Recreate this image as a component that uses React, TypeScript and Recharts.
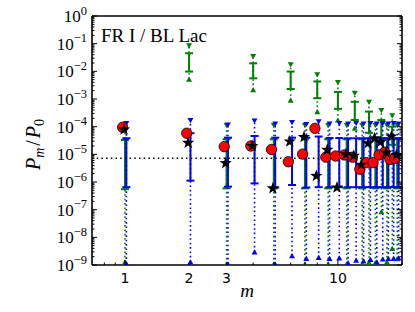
import { ComposedChart, ErrorBar, Label, ReferenceLine, Scatter, XAxis, YAxis } from "recharts"

const modes = [1, 2, 3, 4, 5, 6, 7, 8, 9, 10, 11, 12, 13, 14, 15, 16, 17, 18, 19]

// green: upper-limit arrow, bar top, bar bottom, lower-limit arrow
const greenArrowHi = [1.1e-4, 8.3e-2, 1.1e-4, 3.4e-2, 1.1e-4, 1.7e-2, 1.1e-4, 7.4e-3, 1.1e-4, 3.9e-3, 1.1e-4, 1.6e-3, 1.1e-4, 7.6e-4, 1.1e-4, 3.8e-4, 1.1e-4, 2.45e-4, 1.1e-4]
const greenHi = [3.3e-5, 4.5e-2, 3.5e-5, 1.95e-2, 3.5e-5, 9.8e-3, 3.5e-5, 4.3e-3, 3.5e-5, 1.8e-3, 3.5e-5, 7.9e-4, 3.5e-5, 3.5e-4, 3.5e-5, 1.74e-4, 3.5e-5, 1.0e-4, 3.5e-5]
const greenLo = [5.5e-7, 9.8e-3, 5.9e-7, 5.6e-3, 5.9e-7, 2.3e-3, 5.9e-7, 1.07e-3, 5.9e-7, 4.4e-4, 5.9e-7, 1.74e-4, 5.9e-7, 6.0e-5, 5.9e-7, 3.8e-5, 5.9e-7, 2.2e-5, 5.9e-7]
const greenArrowLo = [1.3e-9, 5.2e-3, 1.1e-9, 2.2e-3, 1.1e-9, 9.1e-4, 1.1e-9, 3.5e-4, 1.1e-9, 1.74e-4, 1.1e-9, 8.9e-5, 1.1e-9, 1.26e-9, 1.2e-9, 8.5e-8, 1.3e-9, 4.0e-9, 1.7e-9]

// blue
const blueArrowHi = [1.3e-4, 1.66e-4, 1.15e-4, 1.6e-4, 1.25e-4, 1.4e-4, 1.2e-4, 1.5e-4, 1.25e-4, 1.3e-4, 1.25e-4, 1.3e-4, 1.25e-4, 1.3e-4, 1.25e-4, 1.3e-4, 1.25e-4, 1.3e-4, 1.25e-4]
const blueHi = [3.8e-5, 5.8e-5, 4.0e-5, 4.6e-5, 4.0e-5, 4.0e-5, 4.0e-5, 4.4e-5, 3.9e-5, 3.9e-5, 3.8e-5, 3.8e-5, 3.8e-5, 3.8e-5, 3.8e-5, 3.8e-5, 3.8e-5, 3.8e-5, 3.8e-5]
const blueLo = [6.5e-7, 1.12e-6, 6.8e-7, 8.9e-7, 6.3e-7, 7.8e-7, 6.3e-7, 6.5e-7, 6.5e-7, 6.5e-7, 6.5e-7, 6.5e-7, 6.5e-7, 6.5e-7, 6.5e-7, 6.5e-7, 6.5e-7, 6.5e-7, 6.5e-7]
const blueArrowLo = [1.15e-9, 1.3e-9, 1.1e-9, 3.0e-9, 1.1e-9, 2.2e-9, 1.74e-9, 1.9e-9, 1.74e-9, 1.8e-9, 1.2e-9, 1.5e-9, 1.4e-9, 1.6e-9, 1.3e-9, 1.65e-9, 1.74e-9, 1.74e-9, 1.8e-9]

const redValues = [9.5e-5, 5.8e-5, 1.9e-5, 2.0e-5, 1.5e-5, 5.4e-6, 1.02e-5, 8.7e-5, 7.9e-6, 8.7e-6, 9.5e-6, 7.9e-6, 2.9e-6, 5.0e-6, 5.0e-6, 9.5e-6, 1.2e-5, 6.6e-6, 7.2e-6]
const starValues = [7.9e-5, 2.6e-5, 4.8e-6, 2.0e-5, 5.9e-7, 2.9e-5, 4.2e-5, 1.66e-6, 1.45e-5, 6.3e-7, 1.0e-5, 8.9e-6, 4.2e-6, 2.5e-5, 3.8e-5, 2.75e-5, 1.15e-5, 4.4e-5, 9.5e-6]

const noiseLevel = 7.2e-6

const yMajorTicks = [1, 1e-1, 1e-2, 1e-3, 1e-4, 1e-5, 1e-6, 1e-7, 1e-8, 1e-9]
const yTickExponents = ["0", "−1", "−2", "−3", "−4", "−5", "−6", "−7", "−8", "−9"]
const yMinorFactors = [2, 3, 4, 5, 6, 7, 8, 9]
const xMajorTicks = [1, 10]
const xMinorTicks = [0.8, 0.9, 2, 3, 4, 5, 6, 7, 8, 9, 20]
const xTickLabels = [1, 2, 3, 10]

// small horizontal offsets so overlapping markers stay visible
const shift = { red: 0.975, star: 0.99, green: 1.0, blue: 1.015 }

const GREEN = "#008000"
const BLUE = "#0000ff"

const yTicks = [
  ...yMajorTicks,
  ...yMajorTicks.slice(1).flatMap((d) => yMinorFactors.map((f) => d * f)),
]
const xTicks = [...xMajorTicks, ...xMinorTicks].sort((a, b) => a - b)

const bars = (hi, lo, k) => modes.map((m, i) => ({ x: m * k, y: hi[i], lo: lo[i] }))
const points = (vals, k) => modes.map((m, i) => ({ x: m * k, y: vals[i] }))

const greenSolid = bars(greenHi, greenLo, shift.green)
const greenDotted = bars(greenArrowHi, greenArrowLo, shift.green)
const greenLowArrows = points(greenArrowLo, shift.green)
const blueSolid = bars(blueHi, blueLo, shift.blue)
const blueDotted = bars(blueArrowHi, blueArrowLo, shift.blue)
const blueLowArrows = points(blueArrowLo, shift.blue)
const redPoints = points(redValues, shift.red)
const starPoints = points(starValues, shift.star)

// ErrorBar gets the scatter point; the original row sits in payload
const errRange = (d) => {
  const row = d.payload ?? d
  return [row.y - row.lo, 0]
}

const Nothing = () => <g />

const downTri = (color) => (p) => (
  <polygon points={`${p.cx - 3},${p.cy - 2.6} ${p.cx + 3},${p.cy - 2.6} ${p.cx},${p.cy + 2.6}`} fill={color} />
)
const upTri = (color) => (p) => (
  <polygon points={`${p.cx - 3},${p.cy + 2.6} ${p.cx + 3},${p.cy + 2.6} ${p.cx},${p.cy - 2.6}`} fill={color} />
)

const RedDot = (p) => <circle cx={p.cx} cy={p.cy} r={5.2} fill="#ff0000" stroke="#000" strokeWidth={0.8} />

const StarMark = (p) => {
  const pts = []
  for (let k = 0; k < 10; k++) {
    const r = k % 2 === 0 ? 6.5 : 2.6
    const a = -Math.PI / 2 + (k * Math.PI) / 5
    pts.push(`${p.cx + r * Math.cos(a)},${p.cy + r * Math.sin(a)}`)
  }
  return <polygon points={pts.join(" ")} fill="#000" />
}

const serif = "'Liberation Serif', 'DejaVu Serif', serif"
const sans = "'DejaVu Sans', sans-serif"

const isMajorY = (v) => yMajorTicks.some((t) => Math.abs(v / t - 1) < 1e-6)

const LeftTick = ({ x, y, payload }) => {
  const v = payload.value
  const idx = yMajorTicks.findIndex((t) => Math.abs(v / t - 1) < 1e-6)
  const len = idx >= 0 ? 5 : 2.5
  return (
    <g>
      <line x1={x} x2={x + len} y1={y} y2={y} stroke="#000" strokeWidth={1} />
      {idx >= 0 && (
        <text x={x - 5} y={y + 6} textAnchor="end" fontFamily={serif} fontSize={17} fill="#000">
          10
          <tspan dy={-7.5} fontSize={12.5}>{yTickExponents[idx]}</tspan>
        </text>
      )}
    </g>
  )
}

const RightTick = ({ x, y, payload }) => {
  const len = isMajorY(payload.value) ? 5 : 2.5
  return <line x1={x} x2={x - len} y1={y} y2={y} stroke="#000" strokeWidth={1} />
}

const BottomTick = ({ x, y, payload }) => {
  const v = payload.value
  const len = xMajorTicks.includes(v) ? 5 : 2.5
  return (
    <g>
      <line x1={x} x2={x} y1={y} y2={y - len} stroke="#000" strokeWidth={1} />
      {xTickLabels.includes(v) && (
        <text x={x} y={y + 18} textAnchor="middle" fontFamily={sans} fontSize={14} fill="#000">
          {v}
        </text>
      )}
    </g>
  )
}

const TopTick = ({ x, y, payload }) => {
  const len = xMajorTicks.includes(payload.value) ? 5 : 2.5
  return <line x1={x} x2={x} y1={y} y2={y + len} stroke="#000" strokeWidth={1} />
}

const frame = { stroke: "#000", strokeWidth: 1.6 }

export default function App() {
  return (
    <div style={{ position: "absolute", left: 0, top: 0, background: "#fff" }}>
      <ComposedChart width={415} height={312} margin={{ top: 15, right: 12, bottom: 0, left: 0 }}>
        <XAxis
          type="number"
          dataKey="x"
          scale="log"
          domain={[0.7, 20]}
          allowDataOverflow
          ticks={xTicks}
          interval={0}
          tickSize={0}
          tickMargin={0}
          tickLine={false}
          axisLine={frame}
          tick={BottomTick}
          height={47}
        >
          <Label
            content={({ viewBox }) => (
              <text x={viewBox.x + viewBox.width / 2} y={viewBox.y + 32} textAnchor="middle" fontFamily={serif} fontStyle="italic" fontSize={19}>
                m
              </text>
            )}
          />
        </XAxis>
        <XAxis
          xAxisId="top"
          orientation="top"
          type="number"
          scale="log"
          domain={[0.7, 20]}
          allowDataOverflow
          ticks={xTicks}
          interval={0}
          tickSize={0}
          tickMargin={0}
          tickLine={false}
          axisLine={frame}
          tick={TopTick}
          height={1}
        >
          <Label
            content={({ viewBox }) => (
              <text x={viewBox.x + 9} y={viewBox.y + 27} fontFamily={serif} fontSize={19} fill="#000">
                FR I / BL Lac
              </text>
            )}
          />
        </XAxis>
        <YAxis
          type="number"
          dataKey="y"
          scale="log"
          domain={[1e-9, 1]}
          allowDataOverflow
          ticks={yTicks}
          interval={0}
          tickSize={0}
          tickMargin={0}
          tickLine={false}
          axisLine={frame}
          tick={LeftTick}
          width={92}
        >
          <Label
            content={({ viewBox }) => {
              const cx = viewBox.x + 40
              const cy = viewBox.y + viewBox.height / 2 + 4
              return (
                <text x={cx} y={cy} transform={`rotate(-90, ${cx}, ${cy})`} textAnchor="middle" fontFamily={serif} fontSize={20} fill="#000">
                  <tspan fontStyle="italic">P</tspan>
                  <tspan fontStyle="italic" fontSize={14} dy={4}>m</tspan>
                  <tspan dy={-4} dx={2}>/</tspan>
                  <tspan fontStyle="italic" dx={2}>P</tspan>
                  <tspan fontSize={14} dy={4}>0</tspan>
                </text>
              )
            }}
          />
        </YAxis>
        <YAxis
          yAxisId="right"
          orientation="right"
          type="number"
          scale="log"
          domain={[1e-9, 1]}
          allowDataOverflow
          ticks={yTicks}
          interval={0}
          tickSize={0}
          tickMargin={0}
          tickLine={false}
          axisLine={frame}
          tick={RightTick}
          width={1}
        />

        <Scatter data={greenDotted} shape={downTri(GREEN)} isAnimationActive={false}>
          <ErrorBar dataKey={errRange} direction="y" width={0} stroke={GREEN} strokeWidth={1.6} strokeDasharray="1.6 2.8" isAnimationActive={false} />
        </Scatter>
        <Scatter data={greenLowArrows} shape={upTri(GREEN)} isAnimationActive={false} />
        <Scatter data={greenSolid} shape={Nothing} isAnimationActive={false}>
          <ErrorBar dataKey={errRange} direction="y" width={4} stroke={GREEN} strokeWidth={2} isAnimationActive={false} />
        </Scatter>

        <Scatter data={blueDotted} shape={downTri(BLUE)} isAnimationActive={false}>
          <ErrorBar dataKey={errRange} direction="y" width={0} stroke={BLUE} strokeWidth={1.6} strokeDasharray="1.6 2.8" isAnimationActive={false} />
        </Scatter>
        <Scatter data={blueLowArrows} shape={upTri(BLUE)} isAnimationActive={false} />
        <Scatter data={blueSolid} shape={Nothing} isAnimationActive={false}>
          <ErrorBar dataKey={errRange} direction="y" width={4} stroke={BLUE} strokeWidth={2} isAnimationActive={false} />
        </Scatter>

        <ReferenceLine y={noiseLevel} stroke="#000" strokeWidth={1.5} strokeDasharray="1.5 3.2" />

        <Scatter data={redPoints} shape={RedDot} isAnimationActive={false} />
        <Scatter data={starPoints} shape={StarMark} isAnimationActive={false} />
      </ComposedChart>
    </div>
  )
}
